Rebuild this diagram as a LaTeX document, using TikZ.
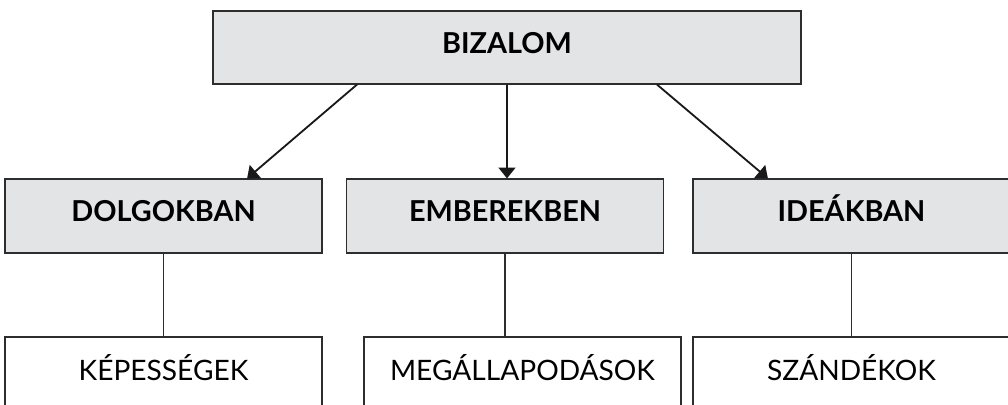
\documentclass[tikz,border=0pt]{standalone}
\usepackage{fontspec}
\setmainfont{Lato}
\usetikzlibrary{arrows.meta}
\definecolor{hdfill}{RGB}{227,228,230}
\definecolor{edge}{RGB}{45,45,45}

\begin{document}
\begin{tikzpicture}[
    top/.style={draw=edge,line width=0.8pt,fill=hdfill,
                minimum width=14.7cm,minimum height=1.825cm,
                text height=0.85em,text depth=0pt,
                font=\fontsize{20.5}{24}\selectfont\bfseries},
    head/.style={draw=edge,line width=0.8pt,fill=hdfill,
                minimum width=7.925cm,minimum height=1.85cm,
                text height=0.85em,text depth=0pt,
                font=\fontsize{20.5}{24}\selectfont\bfseries},
    leaf/.style={draw=edge,line width=0.8pt,fill=white,
                minimum width=7.925cm,minimum height=1.85cm,
                text height=0.95em,text depth=0pt,
                font=\fontsize{20}{24}\selectfont},
    arr/.style={-{Triangle[length=0.27cm,width=0.42cm]},line width=1.3pt,black!90}]
    \useasboundingbox (0,0) rectangle (25.2,10.1);
    \clip (0,0) rectangle (25.2,10.1);
    \node[top]  (biz) at (12.675, 8.9125) {BIZALOM};
    \node[head] (dol) at (4.0875, 4.7) {DOLGOKBAN};
    \node[head] (emb) at (12.625, 4.7) {EMBEREKBEN};
    \node[head] (ide) at (21.2875, 4.7) {IDEÁKBAN};
    \node[leaf] (kep) at (4.0875, 0.75) {KÉPESSÉGEK};
    \node[leaf] (meg) at (13.0625, 0.75) {MEGÁLLAPODÁSOK};
    \node[leaf] (szd) at (21.2875, 0.75) {SZÁNDÉKOK};
    \draw[arr] ([xshift=-3.75cm]biz.south) -- ([xshift=2.09cm]dol.north);
    \draw[arr] (biz.south) -- (biz.south |- emb.north);
    \draw[arr] ([xshift=3.75cm]biz.south) -- ([xshift=-2.09cm]ide.north);
    \foreach \a/\b in {dol/kep,emb/meg,ide/szd}
      \draw[line width=1pt,edge] (\a.south) -- (\a.south |- \b.north);
\end{tikzpicture}
\end{document}
